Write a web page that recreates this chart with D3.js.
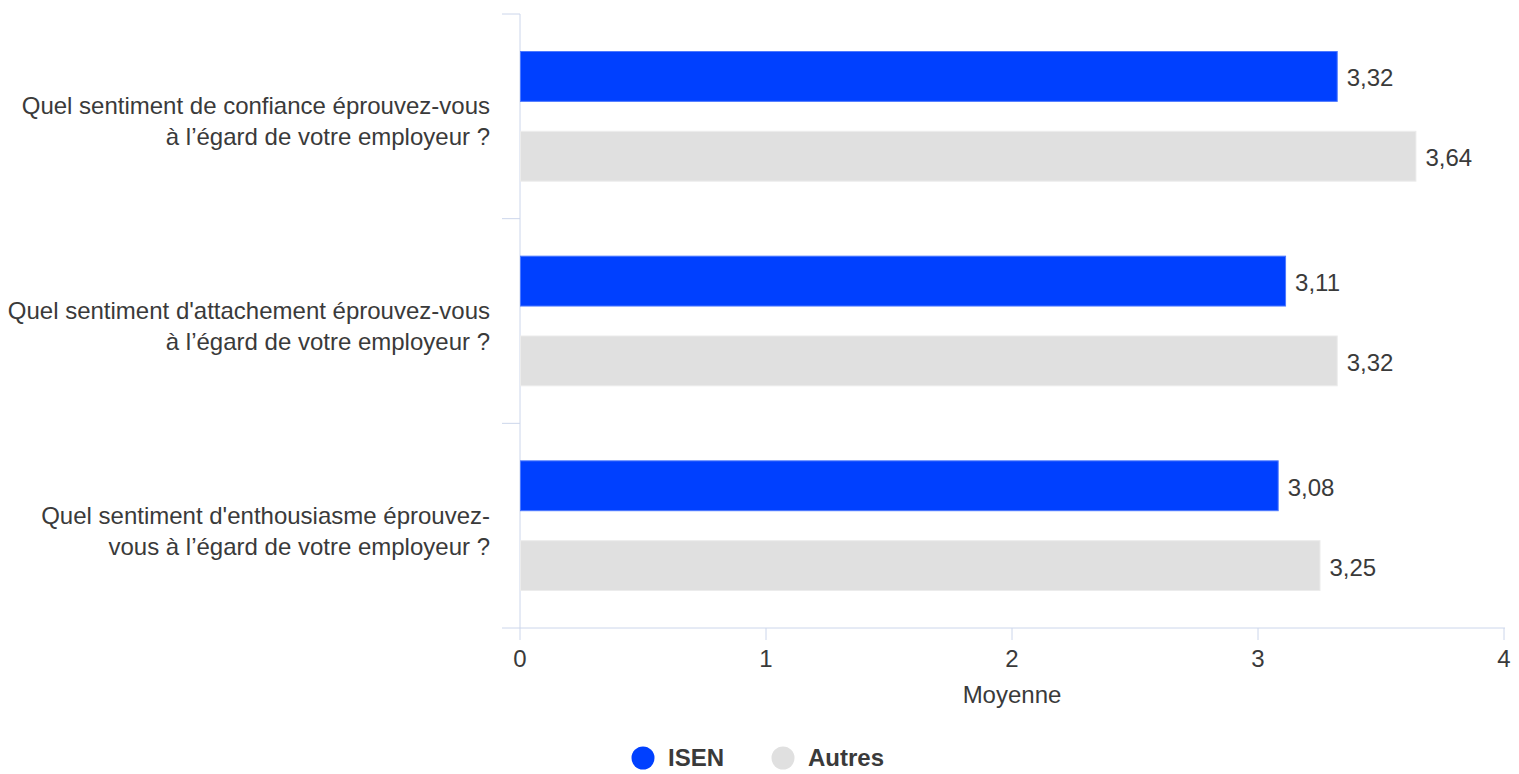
<!DOCTYPE html>
<html><head><meta charset="utf-8">
<script src="https://cdn.jsdelivr.net/npm/d3@7"></script>
<style>body{margin:0;background:#fff;font-family:"Liberation Sans",Arial,sans-serif;}</style>
</head><body><svg id="c" width="1519" height="774"></svg>
<script>
const categories = [
  ["Quel sentiment de confiance éprouvez-vous", "à l’égard de votre employeur ?"],
  ["Quel sentiment d'attachement éprouvez-vous", "à l’égard de votre employeur ?"],
  ["Quel sentiment d'enthousiasme éprouvez-", "vous à l’égard de votre employeur ?"]
];
const seriesNames = ["ISEN", "Autres"];
const isenValues = [3.32, 3.11, 3.08];
const autresValues = [3.64, 3.32, 3.25];
const xTicks = [0, 1, 2, 3, 4];
const xTitle = "Moyenne";
const colors = ["#0040ff", "#e0e0e0"];

const svg = d3.select("#c");
const plotLeft = 520, plotRight = 1504, plotTop = 14, plotBottom = 628;
const fs = 24;
const x = d3.scaleLinear().domain([0, 4]).range([plotLeft, plotRight]);
const y = d3.scaleBand().domain(d3.range(categories.length)).range([plotTop, plotBottom]);
const inner = d3.scaleBand().domain([0, 1]).range([0, y.bandwidth()]).paddingInner(0.375).paddingOuter(0.47);
const axisColor = "#ccd6eb";
const textColor = "#3a3a3a";

// y axis line and category ticks
svg.append("line").attr("x1", plotLeft).attr("x2", plotLeft).attr("y1", plotTop).attr("y2", plotBottom).attr("stroke", axisColor);
const yTicks = d3.range(categories.length).map(i => y(i));
svg.selectAll(".yt").data(yTicks).enter().append("line")
  .attr("x1", plotLeft - 18).attr("x2", plotLeft).attr("y1", d => d).attr("y2", d => d).attr("stroke", axisColor);

// x axis
svg.append("line").attr("x1", plotLeft - 18).attr("x2", plotRight + 1).attr("y1", plotBottom).attr("y2", plotBottom).attr("stroke", axisColor);
svg.selectAll(".xt").data(xTicks).enter().append("line")
  .attr("x1", d => x(d)).attr("x2", d => x(d)).attr("y1", plotBottom).attr("y2", plotBottom + 12).attr("stroke", axisColor);
svg.selectAll(".xl").data(xTicks).enter().append("text")
  .attr("x", d => x(d)).attr("y", plotBottom + 39).attr("text-anchor", "middle")
  .attr("font-size", fs).attr("fill", textColor).text(d => d);
svg.append("text").attr("x", x(2)).attr("y", plotBottom + 75).attr("text-anchor", "middle")
  .attr("font-size", fs).attr("fill", textColor).text(xTitle);

// category labels
categories.forEach((lines, i) => {
  const cy = y(i) + y.bandwidth() / 2;
  const t = svg.append("text").attr("text-anchor", "end").attr("font-size", fs).attr("fill", textColor);
  lines.forEach((l, j) => {
    t.append("tspan").attr("x", 490).attr("y", cy - 2 + j * 31).text(l);
  });
});

// bars
const series = [isenValues, autresValues];
series.forEach((vals, s) => {
  svg.selectAll(".b" + s).data(vals).enter().append("rect")
    .attr("x", x(0) + 0.5).attr("y", (d, i) => y(i) + inner(s))
    .attr("width", d => x(d) - x(0)).attr("height", inner.bandwidth())
    .attr("fill", colors[s]).attr("stroke", s === 0 ? "#4d79ff" : "#ececec").attr("stroke-width", 1);
  svg.selectAll(".v" + s).data(vals).enter().append("text")
    .attr("x", d => x(d) + 10).attr("y", (d, i) => y(i) + inner(s) + inner.bandwidth() / 2 + 10)
    .attr("font-size", fs).attr("fill", textColor)
    .text(d => d.toFixed(2).replace(".", ","));
});

// legend
const legendX = [643, 783];
seriesNames.forEach((n, i) => {
  svg.append("circle").attr("cx", legendX[i]).attr("cy", 758).attr("r", 11.5).attr("fill", colors[i]);
  svg.append("text").attr("x", legendX[i] + 25).attr("y", 766).attr("font-size", fs)
    .attr("font-weight", "bold").attr("fill", textColor).text(n);
});
</script></body></html>
